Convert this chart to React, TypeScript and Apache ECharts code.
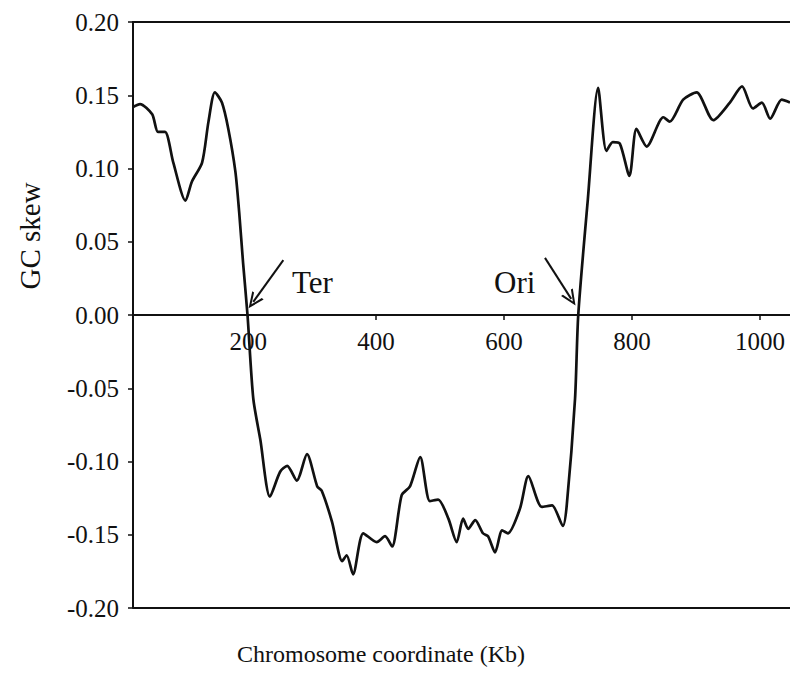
import React, { useEffect, useRef } from "react";
import * as echarts from "echarts";

// Chromosome coordinate (Kb)
const xs = [20, 31, 50, 59, 70, 83, 102, 112, 128, 138, 148, 159, 169, 180, 186, 192, 199, 208, 219, 234, 250, 261, 276, 292, 308, 315, 331, 347, 354, 364, 380, 401, 414, 425, 440, 453, 469, 484, 497, 513, 526, 536, 544, 555, 567, 575, 586, 597, 606, 625, 638, 659, 675, 692, 698, 711, 716, 731, 747, 760, 770, 781, 796, 807, 823, 849, 859, 880, 901, 927, 953, 972, 989, 1003, 1016, 1034, 1047];
// GC skew values
const ys = [0.142, 0.144, 0.137, 0.125, 0.125, 0.104, 0.078, 0.091, 0.104, 0.132, 0.152, 0.145, 0.127, 0.098, 0.070, 0.036, 0.0, -0.057, -0.085, -0.124, -0.107, -0.103, -0.113, -0.095, -0.117, -0.120, -0.141, -0.168, -0.164, -0.177, -0.149, -0.155, -0.151, -0.158, -0.123, -0.117, -0.097, -0.127, -0.126, -0.139, -0.155, -0.139, -0.146, -0.140, -0.149, -0.151, -0.162, -0.147, -0.149, -0.132, -0.110, -0.131, -0.130, -0.144, -0.130, -0.057, 0.0, 0.079, 0.155, 0.112, 0.118, 0.117, 0.095, 0.127, 0.115, 0.135, 0.132, 0.147, 0.152, 0.133, 0.145, 0.156, 0.141, 0.145, 0.134, 0.147, 0.145];

const xTicks = [200, 400, 600, 800, 1000];
const xRange = [20, 1047];
const yRange = [-0.2, 0.2];

const xTitle = "Chromosome coordinate (Kb)";
const yTitle = "GC skew";

// annotation arrows: [label, startX, startY, endX, endY]
const annotations: [string, number, number, number, number][] = [
  ["Ter", 255, 0.0375, 208, 0.009],
  ["Ori", 664, 0.039, 705, 0.011],
];

const FONT = "'Liberation Serif', 'Times New Roman', serif";
const INK = "#111";

export default function App() {
  const ref = useRef<HTMLDivElement>(null);
  useEffect(() => {
    document.body.style.margin = "0";
    const chart = echarts.init(ref.current!, null, { renderer: "svg" });
    const arrowPath = "path://M5,0 L10,11 L8.4,11 L5,3.4 L1.6,11 L0,11 Z";
    chart.setOption({
      animation: false,
      backgroundColor: "#fff",
      grid: { left: 133, top: 22, right: 0, bottom: 68, outerBoundsMode: "none", containLabel: false },
      xAxis: [
        {
          type: "value",
          min: xRange[0],
          max: xRange[1],
          position: "bottom",
          offset: -293,
          axisLine: { onZero: false, lineStyle: { color: INK, width: 2 } },
          axisTick: { show: true, customValues: xTicks, length: 5, lineStyle: { color: INK, width: 1.5 } },
          axisLabel: {
            customValues: xTicks,
            color: INK,
            fontFamily: FONT,
            fontSize: 25,
            margin: 14,
            formatter: (v: number) => String(v),
          },
          splitLine: { show: false },
        },
        {
          type: "value",
          min: xRange[0],
          max: xRange[1],
          position: "top",
          axisLine: { onZero: false, lineStyle: { color: INK, width: 2 } },
          axisTick: { show: false },
          axisLabel: { show: false },
          splitLine: { show: false },
        },
      ],
      yAxis: {
        type: "value",
        min: yRange[0],
        max: yRange[1],
        interval: 0.05,
        axisLine: { show: true, onZero: false, lineStyle: { color: INK, width: 2 } },
        axisTick: { show: true, length: 5, lineStyle: { color: INK, width: 1.5 } },
        axisLabel: {
          color: INK,
          fontFamily: FONT,
          fontSize: 25,
          margin: 14,
          formatter: (v: number) => (Math.abs(v) < 1e-9 ? "0.00" : v.toFixed(2)),
        },
        splitLine: { show: false },
      },
      series: [
        {
          type: "line",
          data: xs.map((x, i) => [x, ys[i]]),
          showSymbol: false,
          smooth: 0.25,
          lineStyle: { color: INK, width: 2.7 },
          markLine: {
            silent: true,
            symbol: "none",
            label: { show: false },
            lineStyle: { color: INK, width: 2, type: "solid" },
            data: [{ yAxis: yRange[0] }],
          },
        },
        {
          type: "line",
          data: [],
          markLine: {
            silent: true,
            symbol: ["none", arrowPath],
            symbolSize: [14, 16],
            label: { show: false },
            lineStyle: { color: INK, width: 2, type: "solid" },
            data: annotations.map((a) => [
              { coord: [a[1], a[2]] },
              { coord: [a[3], a[4]] },
            ]),
          },
        },
      ],
      graphic: [
        {
          type: "text",
          left: 292,
          top: 267,
          style: { text: annotations[0][0], fontFamily: FONT, fontSize: 31, fill: INK },
        },
        {
          type: "text",
          left: 494,
          top: 267,
          style: { text: annotations[1][0], fontFamily: FONT, fontSize: 31, fill: INK },
        },
        {
          type: "text",
          x: 381,
          y: 654,
          style: {
            text: xTitle,
            fontFamily: FONT,
            fontSize: 24,
            fill: INK,
            align: "center",
            verticalAlign: "middle",
          },
        },
        {
          type: "text",
          x: 30,
          y: 236,
          rotation: Math.PI / 2,
          style: {
            text: yTitle,
            fontFamily: FONT,
            fontSize: 29,
            fill: INK,
            align: "center",
            verticalAlign: "middle",
          },
        },
      ],
    });
    return () => chart.dispose();
  }, []);
  return <div ref={ref} style={{ width: 790, height: 676 }} />;
}
